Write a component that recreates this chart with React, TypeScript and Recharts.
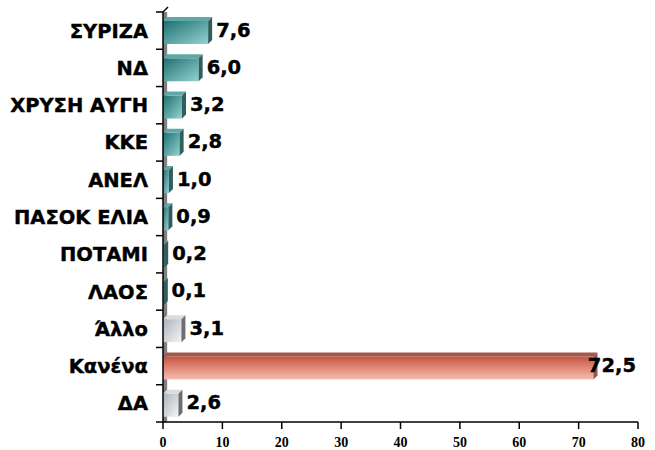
import React from 'react';
import { BarChart, Bar, XAxis, YAxis, LabelList, ReferenceArea } from 'recharts';

const categories = ['ΣΥΡΙΖΑ', 'ΝΔ', 'ΧΡΥΣΗ ΑΥΓΗ', 'ΚΚΕ', 'ΑΝΕΛ', 'ΠΑΣΟΚ ΕΛΙΑ', 'ΠΟΤΑΜΙ', 'ΛΑΟΣ', 'Άλλο', 'Κανένα', 'ΔΑ'];
const values = [7.6, 6.0, 3.2, 2.8, 1.0, 0.9, 0.2, 0.1, 3.1, 72.5, 2.6];
const kinds = ['teal', 'teal', 'teal', 'teal', 'teal', 'teal', 'teal', 'teal', 'gray', 'red', 'gray'];
const xTicks = [0, 10, 20, 30, 40, 50, 60, 70, 80];

const data = categories.map((name, i) => ({ name, value: values[i], kind: kinds[i] }));

const CHART_W = 655;
const CHART_H = 450;
const TOP = 12;
const XAXIS_H = 28;
const YAXIS_W = 163;
const RIGHT = 17;
const BAND = (CHART_H - TOP - XAXIS_H) / categories.length;
const PLOT_RIGHT = CHART_W - RIGHT;
const DEPTH = 4;

const palette: Record<string, { front: string; top: string; side: string }> = {
  teal: { front: 'url(#gTeal)', top: '#5fa8a8', side: '#2f5e5e' },
  red: { front: 'url(#gRed)', top: '#a4584c', side: '#96554b' },
  gray: { front: 'url(#gGray)', top: '#dcdcdc', side: '#6e6e6e' },
};

const Bar3D = (props: any) => {
  const { x, y, width, height, payload } = props;
  const c = palette[payload.kind];
  const w = Math.max(width, 0.8);
  const d = DEPTH;
  return (
    <g>
      <rect x={x} y={y + d} width={w} height={height - d} fill={c.front} />
      <polygon
        points={`${x},${y + d} ${x + d},${y} ${x + w + d},${y} ${x + w},${y + d}`}
        fill={c.top}
      />
      <polygon
        points={`${x + w},${y + d} ${x + w + d},${y} ${x + w + d},${y + height - d} ${x + w},${y + height}`}
        fill={c.side}
      />
    </g>
  );
};

const fmt = (v: number) => v.toFixed(1).replace('.', ',');

const ValueLabel = (props: any) => {
  const { x, y, width, height, value } = props;
  const fs = 19.5;
  const txt = fmt(value);
  let est = 0;
  for (const ch of txt) est += ch === ',' ? 0.38 * fs : 0.696 * fs;
  let tx = x + width + 8;
  if (tx + est > PLOT_RIGHT - 2) tx = PLOT_RIGHT - 2 - est;
  return (
    <text
      x={tx}
      y={y + height / 2 - 1}
      dy="0.36em"
      style={{ fontFamily: '"DejaVu Sans", Verdana, sans-serif', fontWeight: 'bold', fontSize: fs }}
      fill="#000"
      stroke="#000"
      strokeWidth={0.4}
    >
      {txt}
    </text>
  );
};

const YTick = (props: any) => {
  const { x, y, payload, index } = props;
  const axisX = x + 15;
  const top = y - BAND / 2;
  return (
    <g>
      <line x1={axisX - 7} y1={top} x2={axisX} y2={top} stroke="#000" strokeWidth={1.5} />
      {index === categories.length - 1 && (
        <line x1={axisX - 7} y1={y + BAND / 2} x2={axisX} y2={y + BAND / 2} stroke="#000" strokeWidth={1.5} />
      )}
      {index === 0 && (
        <line x1={axisX} y1={top} x2={axisX + 5} y2={top - 5} stroke="#000" strokeWidth={1.5} />
      )}
      <text
        x={x}
        y={y}
        dy="0.36em"
        textAnchor="end"
        style={{ fontFamily: '"DejaVu Sans", Verdana, sans-serif', fontWeight: 'bold', fontSize: 19.5 }}
        fill="#000"
        stroke="#000"
        strokeWidth={0.4}
      >
        {payload.value}
      </text>
    </g>
  );
};

const XTick = (props: any) => {
  const { x, y, payload } = props;
  return (
    <text
      x={x}
      y={y}
      dy="0.71em"
      textAnchor="middle"
      style={{ fontFamily: '"Liberation Serif", "Times New Roman", serif', fontWeight: 'bold', fontSize: 14 }}
      fill="#000"
    >
      {payload.value}
    </text>
  );
};

export default function App() {
  return (
    <div style={{ position: 'absolute', left: 0, top: 0, width: CHART_W, height: CHART_H, background: '#fff' }}>
      <BarChart
        width={CHART_W}
        height={CHART_H}
        data={data}
        layout="vertical"
        margin={{ top: TOP, right: RIGHT, bottom: 0, left: 0 }}
        barSize={27}
      >
        <defs>
          <linearGradient id="gTeal" x1="0" y1="0" x2="1" y2="1">
            <stop offset="0%" stopColor="#1f6f70" />
            <stop offset="100%" stopColor="#93d2d2" />
          </linearGradient>
          <linearGradient id="gRed" x1="0" y1="0" x2="0" y2="1">
            <stop offset="0%" stopColor="#c4563f" />
            <stop offset="50%" stopColor="#df8a78" />
            <stop offset="100%" stopColor="#f3bcae" />
          </linearGradient>
          <linearGradient id="gGray" x1="0" y1="0" x2="1" y2="1">
            <stop offset="0%" stopColor="#aab3bb" />
            <stop offset="100%" stopColor="#f5f5f5" />
          </linearGradient>
        </defs>
        <ReferenceArea x1={0} x2={0.7} fill="#808080" fillOpacity={1} stroke="none" />
        <XAxis
          type="number"
          domain={[0, 80]}
          ticks={xTicks}
          height={XAXIS_H}
          axisLine={{ stroke: '#000', strokeWidth: 1.5 }}
          tickLine={{ stroke: '#000', strokeWidth: 1.5 }}
          tickSize={7}
          tickMargin={8}
          tick={<XTick />}
          interval={0}
        />
        <YAxis
          type="category"
          dataKey="name"
          width={YAXIS_W}
          axisLine={{ stroke: '#000', strokeWidth: 1.5 }}
          tickLine={false}
          tickSize={7}
          tickMargin={8}
          tick={<YTick />}
          interval={0}
        />
        <Bar dataKey="value" shape={<Bar3D />} isAnimationActive={false}>
          <LabelList dataKey="value" content={<ValueLabel />} />
        </Bar>
      </BarChart>
    </div>
  );
}
